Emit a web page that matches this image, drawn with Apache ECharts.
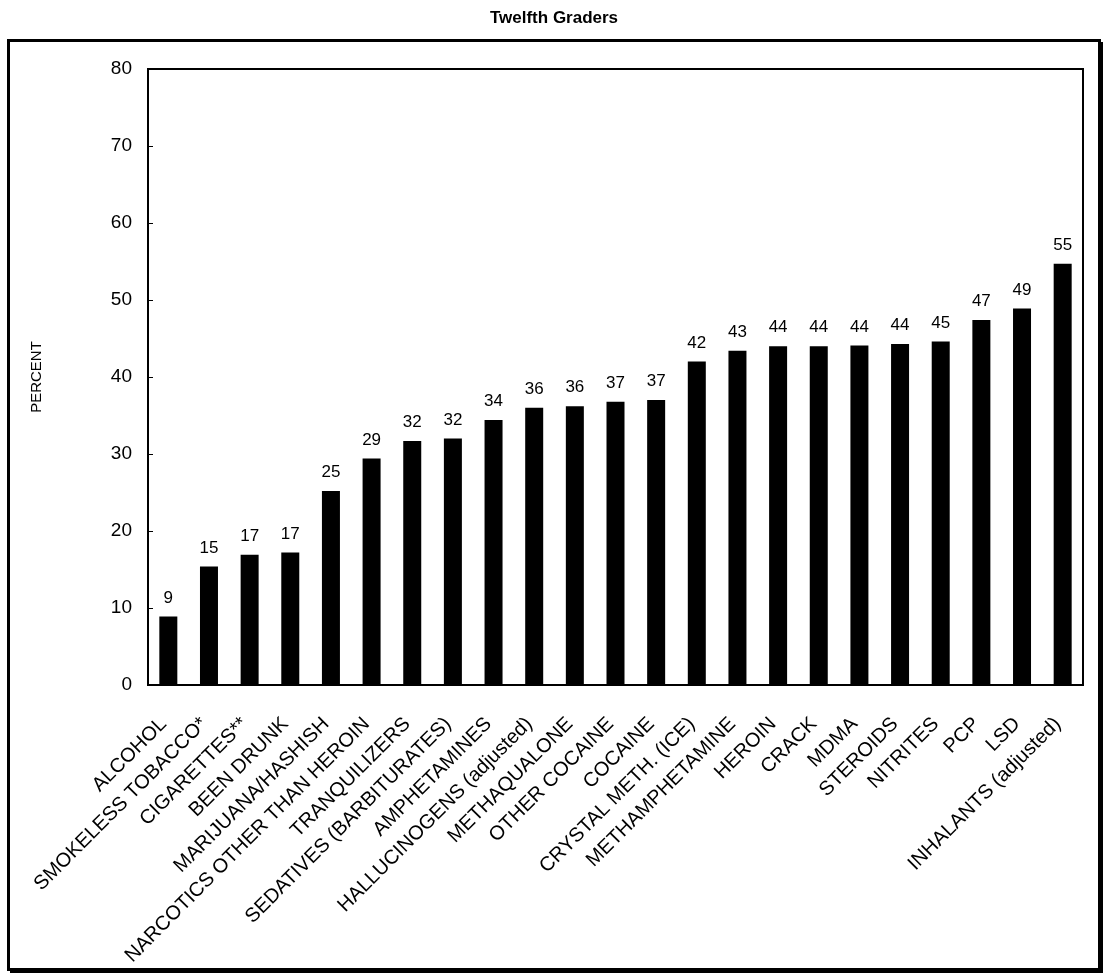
<!DOCTYPE html>
<html>
<head>
<meta charset="utf-8">
<title>Twelfth Graders</title>
<script src="https://cdn.jsdelivr.net/npm/echarts@6/dist/echarts.min.js"></script>
<style>
  html, body { margin: 0; padding: 0; background: #ffffff; }
  #chart { width: 1108px; height: 977px; }
</style>
</head>
<body>
<div id="chart"></div>
<script>
// Substances, ordered from lowest to highest percent
const categories = [
  'ALCOHOL', 'SMOKELESS TOBACCO*', 'CIGARETTES**', 'BEEN DRUNK',
  'MARIJUANA/HASHISH', 'NARCOTICS OTHER THAN HEROIN', 'TRANQUILIZERS',
  'SEDATIVES (BARBITURATES)', 'AMPHETAMINES', 'HALLUCINOGENS (adjusted)',
  'METHAQUALONE', 'OTHER COCAINE', 'COCAINE', 'CRYSTAL METH. (ICE)',
  'METHAMPHETAMINE', 'HEROIN', 'CRACK', 'MDMA', 'STEROIDS', 'NITRITES',
  'PCP', 'LSD', 'INHALANTS (adjusted)'
];

// Percent for each substance (labels show the rounded value)
const percents = [
  8.9, 15.4, 16.9, 17.2,
  25.2, 29.4, 31.7,
  32.0, 34.4, 36.0,
  36.2, 36.8, 37.0, 42.0,
  43.4, 44.0, 44.0, 44.1, 44.3, 44.6,
  47.4, 48.9, 54.7
];

// Value axis range and tick step
const yMin = 0;
const yMax = 80;
const yStep = 10;

const FONT = "'Liberation Sans', Arial, Helvetica, sans-serif";

const chart = echarts.init(document.getElementById('chart'), null, { renderer: 'canvas' });

chart.setOption({
  backgroundColor: '#ffffff',
  animation: false,
  title: {
    text: 'Twelfth Graders',
    left: 'center',
    top: 5,
    textStyle: { fontFamily: FONT, fontSize: 17, fontWeight: 'bold', color: '#000' }
  },
  graphic: [
    {
      type: 'rect',
      shape: { x: 8.5, y: 40.5, width: 1091, height: 929 },
      style: { fill: 'none', stroke: '#000', lineWidth: 3 },
      silent: true
    },
    {
      type: 'polyline',
      shape: { points: [[1102, 42], [1102, 972], [10, 972]] },
      style: { fill: 'none', stroke: '#000', lineWidth: 2 },
      silent: true
    }
  ],
  grid: {
    left: 148,
    right: 25,
    top: 69,
    bottom: 292,
    show: true,
    borderColor: '#000',
    borderWidth: 2,
    containLabel: false
  },
  xAxis: {
    type: 'category',
    data: categories,
    axisLine: { show: true, lineStyle: { color: '#000', width: 2 } },
    axisTick: { show: false },
    axisLabel: {
      interval: 0,
      rotate: 45,
      margin: 31,
      padding: [0, 7, 0, 0],
      color: '#000',
      fontFamily: FONT,
      fontSize: 20
    },
    splitLine: { show: false }
  },
  yAxis: {
    type: 'value',
    min: yMin,
    max: yMax,
    interval: yStep,
    name: 'PERCENT',
    nameLocation: 'middle',
    nameGap: 104,
    nameTextStyle: { fontFamily: FONT, fontSize: 15, color: '#000' },
    axisLine: { show: true, lineStyle: { color: '#000', width: 2 } },
    axisTick: { show: true, inside: true, length: 5, lineStyle: { color: '#000', width: 1 } },
    axisLabel: { color: '#000', fontFamily: FONT, fontSize: 19, margin: 16 },
    splitLine: { show: false }
  },
  series: [
    {
      type: 'bar',
      data: percents,
      barWidth: 18,
      itemStyle: { color: '#000' },
      label: {
        show: true,
        position: 'top',
        distance: 10,
        color: '#000',
        fontFamily: FONT,
        fontSize: 17,
        formatter: p => String(Math.round(p.value))
      }
    }
  ]
});
</script>
</body>
</html>
